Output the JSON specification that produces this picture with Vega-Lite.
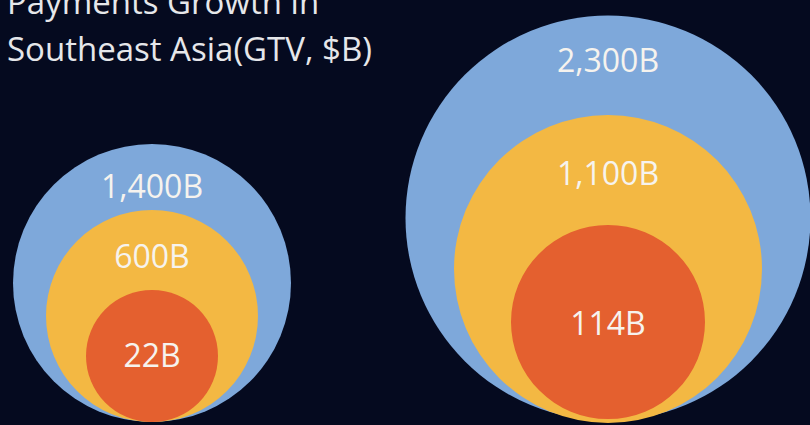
{
  "$schema": "https://vega.github.io/schema/vega-lite/v6.json",
  "width": 810,
  "height": 425,
  "padding": 0,
  "autosize": {"type": "none"},
  "background": "#050a1f",
  "title": {
    "text": ["Payments Growth in", "Southeast Asia(GTV, $B)"],
    "anchor": "start",
    "frame": "group",
    "orient": "top",
    "font": "Open Sans",
    "fontSize": 33,
    "fontWeight": "normal",
    "color": "#e6e7ea",
    "lineHeight": 47,
    "baseline": "alphabetic",
    "offset": -94,
    "dx": 7
  },
  "data": {
    "values": [
      {"period": "Current", "tier": "Total", "value": 1400, "label": "1,400B"},
      {"period": "Current", "tier": "Digital", "value": 600, "label": "600B"},
      {"period": "Current", "tier": "Mobile", "value": 22, "label": "22B"},
      {"period": "Projected", "tier": "Total", "value": 2300, "label": "2,300B"},
      {"period": "Projected", "tier": "Digital", "value": 1100, "label": "1,100B"},
      {"period": "Projected", "tier": "Mobile", "value": 114, "label": "114B"}
    ]
  },
  "encoding": {
    "x": {
      "field": "period",
      "type": "nominal",
      "axis": null,
      "scale": {"type": "point", "range": [152, 608], "padding": 0}
    }
  },
  "layer": [
    {
      "mark": {"type": "point", "shape": "circle", "filled": true, "opacity": 1, "strokeWidth": 0},
      "encoding": {
        "y": {
          "field": "value",
          "type": "quantitative",
          "axis": null,
          "scale": {"type": "linear", "zero": false, "nice": false, "domain": [22, 114, 600, 1100, 1400, 2300], "range": [356, 322, 316, 269, 283, 218]}
        },
        "size": {
          "field": "value",
          "type": "quantitative",
          "legend": null,
          "scale": {"type": "linear", "zero": false, "nice": false, "domain": [22, 114, 600, 1100, 1400, 2300], "range": [17424, 37636, 44944, 94864, 77284, 164025]}
        },
        "color": {
          "field": "tier",
          "type": "nominal",
          "legend": null,
          "scale": {"domain": ["Total", "Digital", "Mobile"], "range": ["#7ea8da", "#f3b843", "#e4602f"]}
        },
        "order": {"field": "value", "sort": "descending"}
      }
    },
    {
      "mark": {"type": "text", "font": "Open Sans", "fontSize": 32, "fontWeight": 500, "baseline": "middle", "align": "center", "color": "#f6f3ee"},
      "encoding": {
        "y": {
          "field": "value",
          "type": "quantitative",
          "axis": null,
          "scale": {"type": "linear", "zero": false, "nice": false, "domain": [22, 114, 600, 1100, 1400, 2300], "range": [357, 325, 258, 175, 188, 62]}
        },
        "text": {"field": "label"}
      }
    }
  ],
  "resolve": {"scale": {"y": "independent"}},
  "config": {"view": {"stroke": null}}
}
